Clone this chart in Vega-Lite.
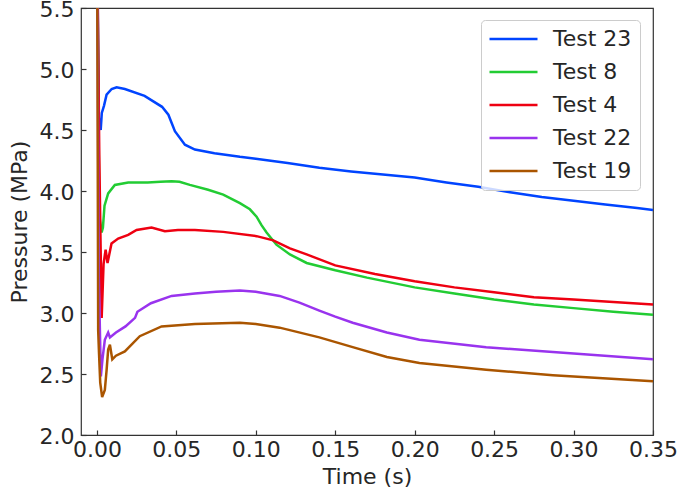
{
  "$schema": "https://vega.github.io/schema/vega-lite/v6.json",
  "width": 572,
  "height": 427,
  "autosize": {"type": "none"},
  "padding": {"left": 81, "top": 8, "right": 26, "bottom": 62},
  "background": "white",
  "config": {
    "font": "DejaVu Sans",
    "view": {"stroke": "#333333", "strokeWidth": 1.2},
    "axis": {
      "domain": false,
      "grid": false,
      "tickSize": -5,
      "tickColor": "#333333",
      "tickWidth": 1.2,
      "labelFont": "DejaVu Sans",
      "labelFontSize": 22,
      "labelColor": "#262626",
      "labelFlush": false,
      "labelOverlap": false,
      "titleFont": "DejaVu Sans",
      "titleFontSize": 22,
      "titleFontWeight": "normal",
      "titleColor": "#262626"
    },
    "legend": {
      "labelFont": "DejaVu Sans"
    }
  },
  "data": {
    "values": [
      {"s": "Test 23", "t": 0.0002, "p": 6.0},
      {"s": "Test 23", "t": 0.0012, "p": 4.6},
      {"s": "Test 23", "t": 0.0024, "p": 4.50},
      {"s": "Test 23", "t": 0.0031, "p": 4.64},
      {"s": "Test 23", "t": 0.0045, "p": 4.70},
      {"s": "Test 23", "t": 0.0061, "p": 4.79},
      {"s": "Test 23", "t": 0.0093, "p": 4.836},
      {"s": "Test 23", "t": 0.0124, "p": 4.85},
      {"s": "Test 23", "t": 0.0176, "p": 4.836},
      {"s": "Test 23", "t": 0.030, "p": 4.78},
      {"s": "Test 23", "t": 0.041, "p": 4.69},
      {"s": "Test 23", "t": 0.045, "p": 4.625},
      {"s": "Test 23", "t": 0.0491, "p": 4.49},
      {"s": "Test 23", "t": 0.0554, "p": 4.38},
      {"s": "Test 23", "t": 0.0617, "p": 4.34},
      {"s": "Test 23", "t": 0.074, "p": 4.31},
      {"s": "Test 23", "t": 0.09, "p": 4.28},
      {"s": "Test 23", "t": 0.10, "p": 4.265},
      {"s": "Test 23", "t": 0.12, "p": 4.23},
      {"s": "Test 23", "t": 0.14, "p": 4.19},
      {"s": "Test 23", "t": 0.16, "p": 4.16},
      {"s": "Test 23", "t": 0.18, "p": 4.135},
      {"s": "Test 23", "t": 0.20, "p": 4.11},
      {"s": "Test 23", "t": 0.22, "p": 4.07},
      {"s": "Test 23", "t": 0.24, "p": 4.035},
      {"s": "Test 23", "t": 0.26, "p": 3.99},
      {"s": "Test 23", "t": 0.28, "p": 3.95},
      {"s": "Test 23", "t": 0.30, "p": 3.92},
      {"s": "Test 23", "t": 0.32, "p": 3.89},
      {"s": "Test 23", "t": 0.34, "p": 3.86},
      {"s": "Test 23", "t": 0.35, "p": 3.845},

      {"s": "Test 8", "t": 0.0002, "p": 6.0},
      {"s": "Test 8", "t": 0.0015, "p": 3.8},
      {"s": "Test 8", "t": 0.0030, "p": 3.66},
      {"s": "Test 8", "t": 0.0038, "p": 3.70},
      {"s": "Test 8", "t": 0.0048, "p": 3.88},
      {"s": "Test 8", "t": 0.0071, "p": 3.98},
      {"s": "Test 8", "t": 0.0113, "p": 4.05},
      {"s": "Test 8", "t": 0.0197, "p": 4.07},
      {"s": "Test 8", "t": 0.032, "p": 4.07},
      {"s": "Test 8", "t": 0.040, "p": 4.075},
      {"s": "Test 8", "t": 0.047, "p": 4.08},
      {"s": "Test 8", "t": 0.052, "p": 4.075},
      {"s": "Test 8", "t": 0.0585, "p": 4.05},
      {"s": "Test 8", "t": 0.07, "p": 4.01},
      {"s": "Test 8", "t": 0.0795, "p": 3.97},
      {"s": "Test 8", "t": 0.09, "p": 3.90},
      {"s": "Test 8", "t": 0.0963, "p": 3.85},
      {"s": "Test 8", "t": 0.1005, "p": 3.79},
      {"s": "Test 8", "t": 0.1036, "p": 3.72},
      {"s": "Test 8", "t": 0.1068, "p": 3.66},
      {"s": "Test 8", "t": 0.113, "p": 3.56},
      {"s": "Test 8", "t": 0.1215, "p": 3.48},
      {"s": "Test 8", "t": 0.132, "p": 3.41},
      {"s": "Test 8", "t": 0.15, "p": 3.35},
      {"s": "Test 8", "t": 0.17, "p": 3.29},
      {"s": "Test 8", "t": 0.20, "p": 3.21},
      {"s": "Test 8", "t": 0.225, "p": 3.16},
      {"s": "Test 8", "t": 0.25, "p": 3.11},
      {"s": "Test 8", "t": 0.275, "p": 3.07},
      {"s": "Test 8", "t": 0.30, "p": 3.04},
      {"s": "Test 8", "t": 0.325, "p": 3.01},
      {"s": "Test 8", "t": 0.35, "p": 2.985},

      {"s": "Test 4", "t": 0.0002, "p": 6.0},
      {"s": "Test 4", "t": 0.0015, "p": 4.3},
      {"s": "Test 4", "t": 0.0030, "p": 2.96},
      {"s": "Test 4", "t": 0.0042, "p": 3.40},
      {"s": "Test 4", "t": 0.0055, "p": 3.52},
      {"s": "Test 4", "t": 0.0067, "p": 3.41},
      {"s": "Test 4", "t": 0.0092, "p": 3.57},
      {"s": "Test 4", "t": 0.0134, "p": 3.61},
      {"s": "Test 4", "t": 0.0197, "p": 3.64},
      {"s": "Test 4", "t": 0.025, "p": 3.68},
      {"s": "Test 4", "t": 0.0344, "p": 3.70},
      {"s": "Test 4", "t": 0.0428, "p": 3.67},
      {"s": "Test 4", "t": 0.051, "p": 3.68},
      {"s": "Test 4", "t": 0.0617, "p": 3.68},
      {"s": "Test 4", "t": 0.0795, "p": 3.665},
      {"s": "Test 4", "t": 0.1005, "p": 3.63},
      {"s": "Test 4", "t": 0.111, "p": 3.595},
      {"s": "Test 4", "t": 0.1215, "p": 3.53},
      {"s": "Test 4", "t": 0.132, "p": 3.48},
      {"s": "Test 4", "t": 0.15, "p": 3.39},
      {"s": "Test 4", "t": 0.175, "p": 3.32},
      {"s": "Test 4", "t": 0.20, "p": 3.26},
      {"s": "Test 4", "t": 0.225, "p": 3.21},
      {"s": "Test 4", "t": 0.25, "p": 3.17},
      {"s": "Test 4", "t": 0.275, "p": 3.13},
      {"s": "Test 4", "t": 0.30, "p": 3.11},
      {"s": "Test 4", "t": 0.325, "p": 3.09},
      {"s": "Test 4", "t": 0.35, "p": 3.07},

      {"s": "Test 22", "t": 0.0002, "p": 6.0},
      {"s": "Test 22", "t": 0.0012, "p": 3.3},
      {"s": "Test 22", "t": 0.0025, "p": 2.48},
      {"s": "Test 22", "t": 0.0035, "p": 2.62},
      {"s": "Test 22", "t": 0.0050, "p": 2.78},
      {"s": "Test 22", "t": 0.0071, "p": 2.84},
      {"s": "Test 22", "t": 0.0082, "p": 2.80},
      {"s": "Test 22", "t": 0.012, "p": 2.84},
      {"s": "Test 22", "t": 0.018, "p": 2.89},
      {"s": "Test 22", "t": 0.024, "p": 2.96},
      {"s": "Test 22", "t": 0.0255, "p": 3.01},
      {"s": "Test 22", "t": 0.034, "p": 3.08},
      {"s": "Test 22", "t": 0.047, "p": 3.14},
      {"s": "Test 22", "t": 0.0617, "p": 3.16},
      {"s": "Test 22", "t": 0.075, "p": 3.175},
      {"s": "Test 22", "t": 0.09, "p": 3.185},
      {"s": "Test 22", "t": 0.10, "p": 3.175},
      {"s": "Test 22", "t": 0.115, "p": 3.14},
      {"s": "Test 22", "t": 0.1275, "p": 3.085},
      {"s": "Test 22", "t": 0.14, "p": 3.02},
      {"s": "Test 22", "t": 0.15, "p": 2.97},
      {"s": "Test 22", "t": 0.161, "p": 2.92},
      {"s": "Test 22", "t": 0.1825, "p": 2.84},
      {"s": "Test 22", "t": 0.203, "p": 2.78},
      {"s": "Test 22", "t": 0.245, "p": 2.72},
      {"s": "Test 22", "t": 0.287, "p": 2.68},
      {"s": "Test 22", "t": 0.35, "p": 2.62},

      {"s": "Test 19", "t": 0.0002, "p": 6.0},
      {"s": "Test 19", "t": 0.0008, "p": 2.86},
      {"s": "Test 19", "t": 0.0013, "p": 2.68},
      {"s": "Test 19", "t": 0.0021, "p": 2.43},
      {"s": "Test 19", "t": 0.0033, "p": 2.31},
      {"s": "Test 19", "t": 0.0050, "p": 2.37},
      {"s": "Test 19", "t": 0.0061, "p": 2.53},
      {"s": "Test 19", "t": 0.0071, "p": 2.70},
      {"s": "Test 19", "t": 0.0082, "p": 2.74},
      {"s": "Test 19", "t": 0.0097, "p": 2.62},
      {"s": "Test 19", "t": 0.012, "p": 2.65},
      {"s": "Test 19", "t": 0.0176, "p": 2.685},
      {"s": "Test 19", "t": 0.027, "p": 2.81},
      {"s": "Test 19", "t": 0.0407, "p": 2.89},
      {"s": "Test 19", "t": 0.0617, "p": 2.91},
      {"s": "Test 19", "t": 0.09, "p": 2.92},
      {"s": "Test 19", "t": 0.10, "p": 2.91},
      {"s": "Test 19", "t": 0.115, "p": 2.88},
      {"s": "Test 19", "t": 0.14, "p": 2.80},
      {"s": "Test 19", "t": 0.161, "p": 2.72},
      {"s": "Test 19", "t": 0.1825, "p": 2.64},
      {"s": "Test 19", "t": 0.203, "p": 2.59},
      {"s": "Test 19", "t": 0.245, "p": 2.535},
      {"s": "Test 19", "t": 0.287, "p": 2.49},
      {"s": "Test 19", "t": 0.35, "p": 2.44}
    ]
  },
  "mark": {"type": "line", "strokeWidth": 2.5, "clip": true},
  "encoding": {
    "x": {
      "field": "t",
      "type": "quantitative",
      "scale": {"domain": [-0.01, 0.35], "nice": false, "zero": false},
      "axis": {
        "values": [0, 0.05, 0.1, 0.15, 0.2, 0.25, 0.3, 0.35],
        "format": ".2f",
        "title": "Time (s)",
        "labelPadding": 9,
        "titlePadding": 6
      }
    },
    "y": {
      "field": "p",
      "type": "quantitative",
      "scale": {"domain": [2, 5.5], "nice": false, "zero": false},
      "axis": {
        "values": [2, 2.5, 3, 3.5, 4, 4.5, 5, 5.5],
        "format": ".1f",
        "title": "Pressure (MPa)",
        "labelPadding": 12,
        "labelOffset": 1.5,
        "titlePadding": 8
      }
    },
    "color": {
      "field": "s",
      "type": "nominal",
      "scale": {
        "domain": ["Test 23", "Test 8", "Test 4", "Test 22", "Test 19"],
        "range": ["#0044ff", "#22cc33", "#ee0011", "#9933ee", "#aa5500"]
      },
      "legend": {
        "title": null,
        "orient": "none",
        "legendX": 400,
        "legendY": 12,
        "symbolType": "M-1.75,0H6.25",
        "symbolSize": 144,
        "symbolStrokeWidth": 2.5,
        "labelFontSize": 22,
        "labelColor": "#262626",
        "labelOffset": 42,
        "rowPadding": 11,
        "padding": 8,
        "strokeColor": "#cccccc",
        "fillColor": "rgba(255,255,255,0.8)",
        "cornerRadius": 4
      }
    }
  }
}
